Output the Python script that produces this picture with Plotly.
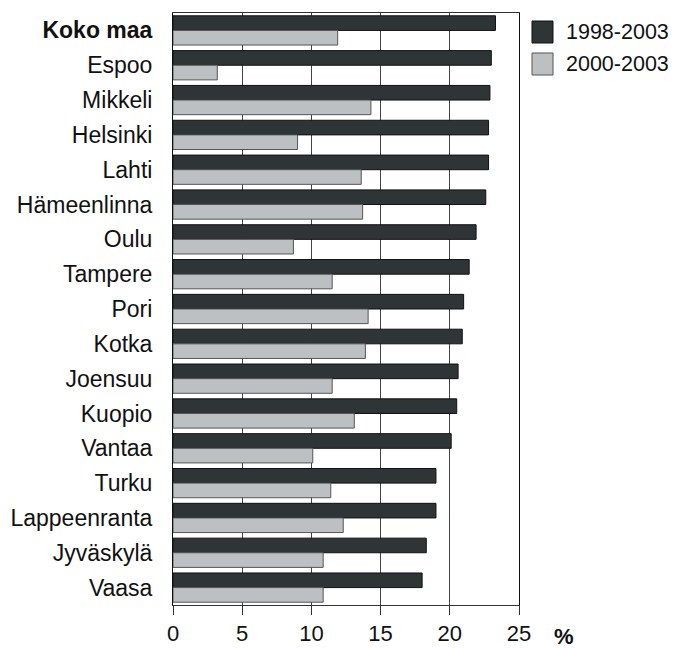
import plotly.graph_objects as go

cities = ["<b>Koko maa</b>", "Espoo", "Mikkeli", "Helsinki", "Lahti", "Hämeenlinna", "Oulu",
          "Tampere", "Pori", "Kotka", "Joensuu", "Kuopio", "Vantaa", "Turku",
          "Lappeenranta", "Jyväskylä", "Vaasa"]
v_1998_2003 = [23.3, 23.0, 22.9, 22.8, 22.8, 22.6, 21.9, 21.4, 21.0, 20.9, 20.6, 20.5,
               20.1, 19.0, 19.0, 18.3, 18.0]
v_2000_2003 = [11.9, 3.2, 14.3, 9.0, 13.6, 13.7, 8.7, 11.5, 14.1, 13.9, 11.5, 13.1,
               10.1, 11.4, 12.3, 10.85, 10.85]
series_names = ["1998-2003", "2000-2003"]
x_ticks = [0, 5, 10, 15, 20, 25]

dark = "#2f3437"
light = "#bcc0c2"
FONT = "Arial, Liberation Sans, sans-serif"
FS = 23

# page body has an 8px margin; plot area in screen px: left 173, right 519, top 13, bottom 605
PL, PR, PT, PB = 173, 519, 13, 605
def px(x):
    return (x - PL) / (PR - PL)
def py(y):
    return (PB - y) / (PB - PT)

fig = go.Figure()
fig.add_trace(go.Bar(y=cities, x=v_1998_2003, orientation="h", name=series_names[0],
                     marker=dict(color=dark, line=dict(color="#111111", width=1)),
                     showlegend=False))
fig.add_trace(go.Bar(y=cities, x=v_2000_2003, orientation="h", name=series_names[1],
                     marker=dict(color=light, line=dict(color="#555555", width=1)),
                     showlegend=False))

W, H = 669, 640
fig.update_layout(
    width=W, height=H,
    margin=dict(l=PL - 8, r=W - (PR - 8), t=PT - 8, b=H - (PB - 8)),
    paper_bgcolor="white", plot_bgcolor="white",
    barmode="group", bargap=0.16, bargroupgap=0.0,
    font=dict(family=FONT, size=FS, color="#111111"),
    xaxis=dict(range=[0, 25], tickvals=x_ticks, showgrid=True, gridcolor="#444444",
               gridwidth=1, ticks="outside", ticklen=9, tickcolor="#333333",
               showline=True, linecolor="#333333", linewidth=1, mirror=True,
               zeroline=False, tickfont=dict(size=22), ticklabelstandoff=0,
               automargin=False),
    yaxis=dict(autorange="reversed", showline=True, linecolor="#111111", linewidth=1,
               mirror=True, ticks="", tickfont=dict(size=FS), ticklabelstandoff=15,
               automargin=False),
    showlegend=False,
)

# percent unit label
fig.add_annotation(text="<b>%</b>", xref="paper", yref="paper", x=px(564),
                   y=py(636), showarrow=False, font=dict(size=22),
                   xanchor="center", yanchor="middle")

# legend (manual)
legend_colors = [dark, light]
legend_lines = ["#111111", "#555555"]
tops = [21, 53]
for name, col, lc, top in zip(series_names, legend_colors, legend_lines, tops):
    fig.add_shape(type="rect", xref="paper", yref="paper",
                  x0=px(532), x1=px(553), y0=py(top), y1=py(top + 22),
                  fillcolor=col, line=dict(color=lc, width=1))
    fig.add_annotation(text=name, xref="paper", yref="paper",
                       x=px(564), y=py(top + 11),
                       showarrow=False, xanchor="left", yanchor="middle",
                       font=dict(size=21.5))

fig.write_html("out.html")
